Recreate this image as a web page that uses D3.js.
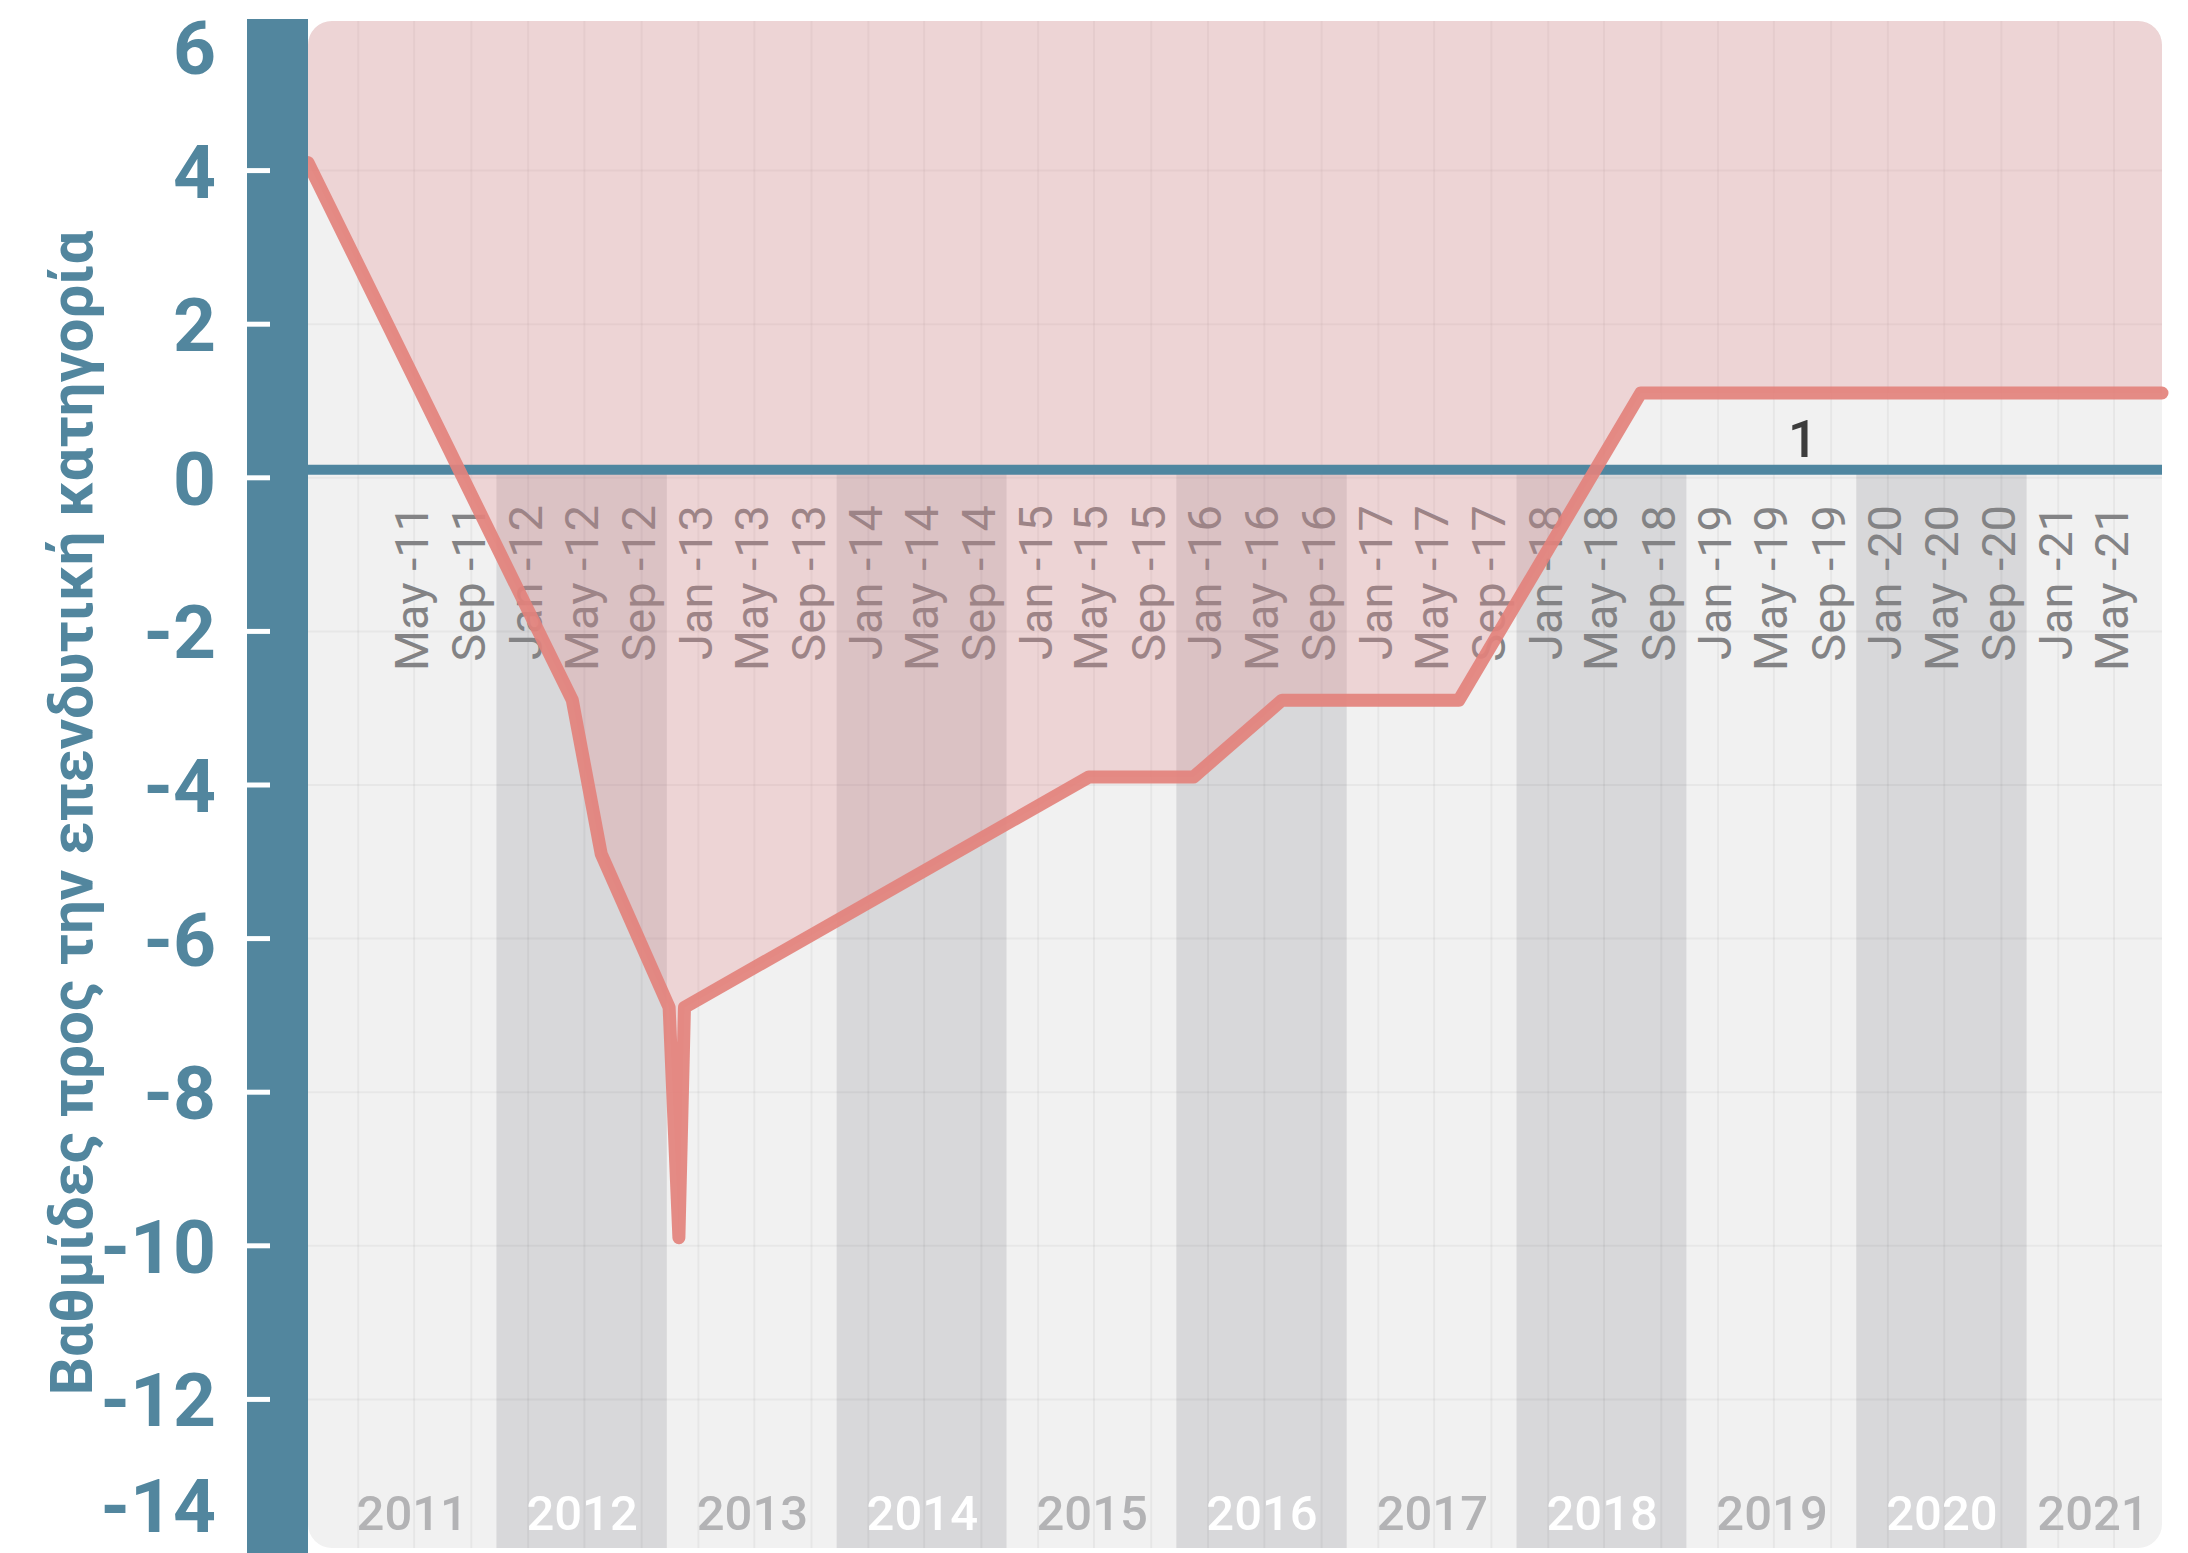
<!DOCTYPE html>
<html>
<head>
<meta charset="utf-8">
<script src="https://cdn.jsdelivr.net/npm/d3@7"></script>
<style>
body { margin: 0; background: #fff; }
svg { display: block; font-family: Roboto, "Noto Sans", sans-serif; }
</style>
</head>
<body>
<svg id="chart"></svg>
<script>
// rating path (notches relative to investment grade)
var ratingDates = ["2010-09-15", "2012-04-05", "2012-06-06", "2012-10-30", "2012-11-20", "2012-12-02",
                   "2015-04-20", "2015-12-01", "2016-06-08", "2017-06-23", "2018-07-19", "2021-08-12"]
var ratingValues = [4, -3, -5, -7, -10, -7, -4, -4, -3, -3, 1, 1]

var monthLabels = ["May -11", "Sep -11", "Jan -12", "May -12", "Sep -12", "Jan -13", "May -13", "Sep -13",
                   "Jan -14", "May -14", "Sep -14", "Jan -15", "May -15", "Sep -15", "Jan -16", "May -16",
                   "Sep -16", "Jan -17", "May -17", "Sep -17", "Jan -18", "May -18", "Sep -18", "Jan -19",
                   "May -19", "Sep -19", "Jan -20", "May -20", "Sep -20", "Jan -21", "May -21"]
var years = [2011, 2012, 2013, 2014, 2015, 2016, 2017, 2018, 2019, 2020, 2021]
var shadedYears = [2012, 2014, 2016, 2018, 2020]
var yTicks = [6, 4, 2, 0, -2, -4, -6, -8, -10, -12, -14]
var note = {date: "2019-07-02", text: "1"}
var yTitle = "Βαθμίδες προς την επενδυτική κατηγορία"

var w = 2188
var h = 1553
var plotLeft = 308, plotRight = 2162, plotTop = 21, plotBottom = 1548
var blue = "#52869e"

var parse = d3.timeParse("%Y-%m-%d")
var parseMonth = d3.timeParse("%b -%y")

var x = d3.scaleTime()
    .domain([parse("2010-09-15"), parse("2021-08-12")])
    .range([plotLeft, plotRight])
// axis ticks sit a few px below the plotted data in the original
var yAxisScale = d3.scaleLinear().domain([-14, 6]).range([1553, 17])
var y = d3.scaleLinear().domain([-14, 6]).range([1545, 9])

var svg = d3.select("#chart").attr("width", w).attr("height", h)

svg.append("defs").append("clipPath").attr("id", "plotClip")
    .append("rect")
    .attr("x", plotLeft).attr("y", plotTop)
    .attr("width", plotRight - plotLeft).attr("height", plotBottom - plotTop)
    .attr("rx", 24)

svg.append("rect")
    .attr("x", plotLeft).attr("y", plotTop)
    .attr("width", plotRight - plotLeft).attr("height", plotBottom - plotTop)
    .attr("rx", 24)
    .attr("fill", "#f1f1f1")

var plot = svg.append("g").attr("clip-path", "url(#plotClip)")

// alternating year bands (below zero only)
plot.selectAll("rect.band")
    .data(shadedYears)
    .enter()
    .append("rect")
    .attr("class", "band")
    .attr("x", function(d) { return x(new Date(d - 1, 9, 25)) })
    .attr("width", function(d) { return x(new Date(d, 9, 25)) - x(new Date(d - 1, 9, 25)) })
    .attr("y", y(0))
    .attr("height", plotBottom - y(0))
    .attr("fill", "#d8d8da")

// grid
plot.selectAll("line.vgrid")
    .data(x.ticks(d3.timeMonth.every(4)))
    .enter()
    .append("line")
    .attr("x1", function(d) { return x(d) })
    .attr("x2", function(d) { return x(d) })
    .attr("y1", plotTop).attr("y2", plotBottom)
    .attr("stroke", "rgba(0,0,0,0.045)")
    .attr("stroke-width", 2)

plot.selectAll("line.hgrid")
    .data(yTicks.slice(1, -1))
    .enter()
    .append("line")
    .attr("x1", plotLeft).attr("x2", plotRight)
    .attr("y1", function(d) { return yAxisScale(d) })
    .attr("y2", function(d) { return yAxisScale(d) })
    .attr("stroke", "rgba(0,0,0,0.04)")
    .attr("stroke-width", 2)

// year labels
plot.selectAll("text.year")
    .data(years)
    .enter()
    .append("text")
    .attr("x", function(d) {
        var bandEnd = Math.min(x(new Date(d, 9, 25)), plotRight)
        return Math.min(x(new Date(d, 0, 1)) + 54, bandEnd - 69)
    })
    .attr("y", 1530)
    .attr("text-anchor", "middle")
    .attr("font-size", 49)
    .attr("font-weight", 500)
    .attr("fill", function(d) { return shadedYears.indexOf(d) >= 0 ? "#ffffff" : "#b3b3b5" })
    .text(function(d) { return d })

// month labels
plot.selectAll("text.month")
    .data(monthLabels)
    .enter()
    .append("text")
    .attr("transform", function(d) { return "translate(" + (x(parseMonth(d)) - 3) + ",505) rotate(-90)" })
    .attr("dy", "0.35em")
    .attr("text-anchor", "end")
    .attr("font-size", 47)
    .attr("fill", "#838385")
    .text(function(d) { return d })

// zero line
svg.append("line")
    .attr("x1", plotLeft).attr("x2", plotRight)
    .attr("y1", y(0)).attr("y2", y(0))
    .attr("stroke", "#4f86a0")
    .attr("stroke-width", 10)

var points = ratingDates.map(function(d, i) { return [parse(d), ratingValues[i]] })

var area = d3.area()
    .x(function(d) { return x(d[0]) })
    .y0(y(6))
    .y1(function(d) { return y(d[1]) })

plot.append("path")
    .datum(points)
    .attr("fill", "rgba(226,135,140,0.28)")
    .attr("d", area)

var line = d3.line()
    .x(function(d) { return x(d[0]) })
    .y(function(d) { return y(d[1]) })

svg.append("path")
    .datum(points)
    .attr("fill", "none")
    .attr("stroke", "#e3827c")
    .attr("stroke-opacity", 0.92)
    .attr("stroke-width", 13)
    .attr("stroke-linejoin", "round")
    .attr("stroke-linecap", "round")
    .attr("d", line)

svg.append("text")
    .attr("x", x(parse(note.date)))
    .attr("y", y(0) - 13)
    .attr("text-anchor", "middle")
    .attr("font-size", 52)
    .attr("font-weight", 500)
    .attr("fill", "#3d3d3d")
    .text(note.text)

// y axis bar
svg.append("rect")
    .attr("x", 247).attr("y", 19)
    .attr("width", plotLeft - 247).attr("height", h - 19)
    .attr("fill", blue)

svg.selectAll("line.tick")
    .data(yTicks.slice(1, -1))
    .enter()
    .append("line")
    .attr("x1", 247).attr("x2", 270)
    .attr("y1", function(d) { return yAxisScale(d) })
    .attr("y2", function(d) { return yAxisScale(d) })
    .attr("stroke", "#ffffff")
    .attr("stroke-width", 5)

// end labels are pulled inside the picture
svg.selectAll("text.ytick")
    .data(yTicks)
    .enter()
    .append("text")
    .attr("x", 216)
    .attr("y", function(d) { return Math.max(47, Math.min(1505, yAxisScale(d))) })
    .attr("dy", "0.36em")
    .attr("text-anchor", "end")
    .attr("font-size", 75)
    .attr("font-weight", "bold")
    .attr("fill", blue)
    .text(function(d) { return d })

svg.append("text")
    .attr("transform", "translate(92,813) rotate(-90)")
    .attr("text-anchor", "middle")
    .attr("font-size", 60)
    .attr("font-weight", "bold")
    .attr("fill", blue)
    .text(yTitle)
</script>
</body>
</html>
